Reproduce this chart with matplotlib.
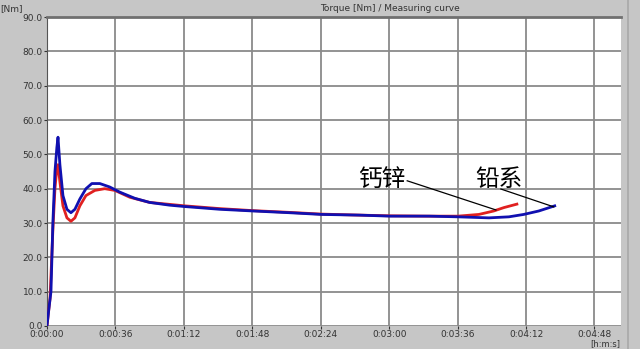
import matplotlib
matplotlib.use('Agg')
import matplotlib.pyplot as plt
import numpy as np

plt.rcParams['font.family'] = ['DejaVu Sans']

# time in seconds, torque in Nm
blue_t = [0, 1.0, 2.1, 3.1, 4.2, 5.2, 5.8, 6.8, 8.4, 10.5, 12.6, 14.7, 17.3, 20.5,
          23.6, 27.8, 33.0, 38.3, 46.2, 54.0, 64.5, 72.4, 90.8, 108.6, 127.5,
          144.3, 164.3, 180.5, 201.0, 216.2, 232.5, 243.0, 250.8, 258.7, 267.1]
blue_v = [0, 5, 10, 30, 45, 52, 55, 47, 38, 34, 33, 34, 37, 40,
          41.5, 41.5, 40.5, 39, 37.2, 36, 35.2, 34.8, 34, 33.5, 33,
          32.5, 32.3, 32, 32, 31.8, 31.5, 31.8, 32.5, 33.5, 35]

red_t = [0, 1.6, 3.1, 4.2, 5.2, 5.8, 6.8, 8.4, 10.5, 12.6, 14.7, 17.3, 20.5,
         25.2, 30.4, 35.7, 43.6, 54.0, 72.4, 90.8, 108.6, 127.5, 144.3,
         164.3, 180.5, 201.0, 216.2, 227.2, 235.0, 240.4, 247.2]
red_v = [0, 8, 28, 40, 46, 47, 42, 35, 31.5, 30.5, 31.5, 35, 38,
         39.5, 40, 39.5, 37.5, 36, 35, 34.2, 33.6, 33.1, 32.6,
         32.3, 32.1, 32, 32, 32.5, 33.5, 34.5, 35.5]

x_ticks = [0, 36, 72, 108, 144, 180, 216, 252, 288]
x_labels = ['0:00:00', '0:00:36', '0:01:12', '0:01:48', '0:02:24',
            '0:03:00', '0:03:36', '0:04:12', '0:04:48']
y_ticks = np.arange(0, 91, 10)

# labels and their pointer lines (label pos, line start, line end)
notes = [('钙锌', (176.3, 42.6), (189.5, 42.3), (236.2, 33.8)),
         ('铅系', (237.7, 42.6), (238.8, 39.9), (266.6, 34.7))]

bg = '#c6c6c6'
fig = plt.figure(figsize=(6.4, 3.49), dpi=100, facecolor=bg)
ax = fig.add_axes([0.0734, 0.066, 0.897, 0.885])
ax.set_facecolor('white')

ax.plot(red_t, red_v, color='#e02020', lw=2.0, zorder=3)
ax.plot(blue_t, blue_v, color='#1010b0', lw=2.0, zorder=4)

ax.set_xlim(0, 302)
ax.set_ylim(0, 90)
ax.set_xticks(x_ticks)
ax.set_xticklabels(x_labels)
ax.set_yticks(y_ticks)
ax.set_yticklabels([f'{v:.1f}' for v in y_ticks])
ax.tick_params(labelsize=6.5, colors='#333333', length=2, width=0.8, pad=1)
ax.grid(True, color='#8a8a8a', lw=1.3)
ax.set_axisbelow(True)
for s in ['right', 'bottom']:
    ax.spines[s].set_visible(False)
ax.spines['left'].set_color('#555555')
ax.spines['top'].set_color('#707070')
ax.spines['top'].set_linewidth(2)

fig.text(0.001, 0.975, '[Nm]', fontsize=6.5, color='#333333', ha='left', va='center')
fig.text(0.50, 0.977, 'Torque [Nm] / Measuring curve', fontsize=6.5, color='#333333',
         ha='left', va='center')
fig.text(0.945, 0.002, '[h:m:s]', fontsize=6, color='#333333', ha='center', va='bottom')
fig.add_artist(plt.Line2D([0.982, 0.982], [0, 1], color='#a8a8a8', lw=1.2))

cjk = ['Noto Sans CJK SC', 'DejaVu Sans']
for label, pos, p0, p1 in notes:
    ax.text(pos[0], pos[1], label, fontsize=17, family=cjk, ha='center', va='center')
    ax.plot([p0[0], p1[0]], [p0[1], p1[1]], color='black', lw=0.9, zorder=5)

fig.savefig('out.png', dpi=100, facecolor=bg)
